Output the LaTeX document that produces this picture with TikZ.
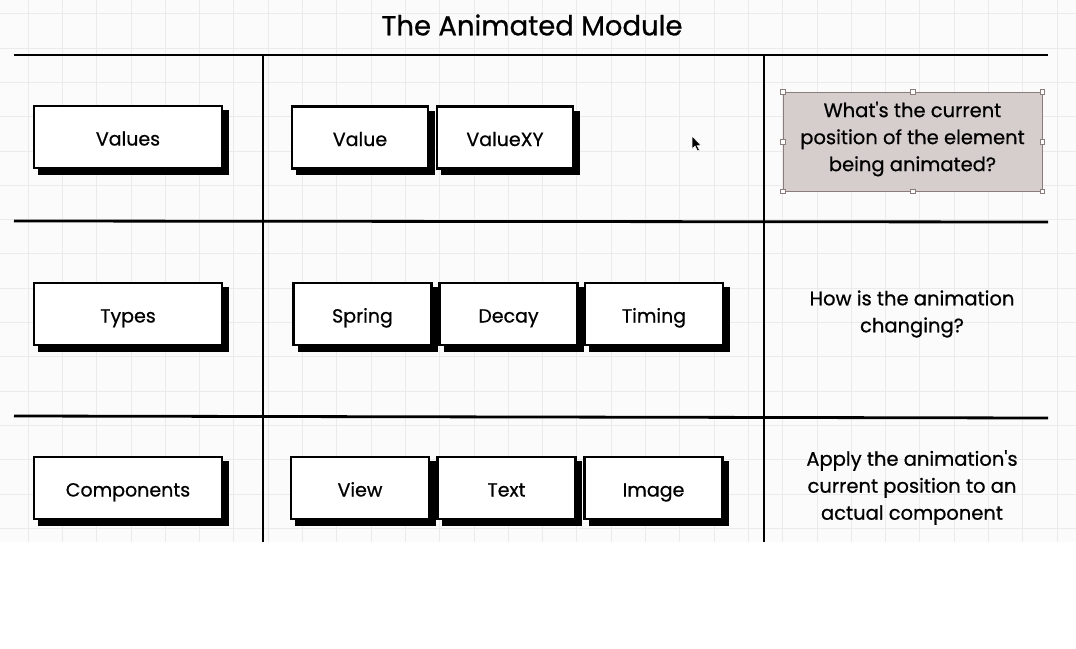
\documentclass[tikz,border=0pt]{standalone}
\usepackage{fontspec}
\setmainfont{Poppins}[Ligatures=TeXOff, FakeBold=0.7]
\usetikzlibrary{shadows}
\definecolor{gridbg}{RGB}{252,251,252}
\definecolor{gridln}{RGB}{236,234,237}
\definecolor{selfill}{RGB}{214,206,205}
\definecolor{selline}{RGB}{140,125,125}
\begin{document}
\begin{tikzpicture}[x=1pt,y=-1pt,
  rule/.style={line width=2.8pt, line cap=butt},
  labelfont/.style={font=\fontsize{19}{27}\selectfont},
  notefont/.style={font=\fontsize{19.5}{27}\selectfont},
  sbox/.style={labelfont, draw=black, line width=2.3pt, fill=white, inner sep=0pt,
    minimum height=62pt, text height=17pt, text depth=0pt,
    drop shadow={shadow xshift=5.5pt, shadow yshift=-5.5pt, fill=black, draw=black, opacity=1}},
  widebox/.style={sbox, minimum width=188pt},
  midbox/.style={sbox, minimum width=138pt},
  note/.style={notefont, align=center, inner sep=0pt},
  handle/.style={draw=selline, fill=white, line width=0.5pt, minimum size=4.5pt, inner sep=0pt}
]
\useasboundingbox (0,0) rectangle (1076,648);
% grid background
\fill[gridbg] (0,0) rectangle (1076,542);
\foreach \gx in {28,62.3,...,1076} \draw[gridln, line width=0.8pt] (\gx,0) -- (\gx,542);
\foreach \gy in {13.7,48,...,542} \draw[gridln, line width=0.8pt] (0,\gy) -- (1076,\gy);

% title
\node[font=\fontsize{27.5}{30}\selectfont, inner sep=0pt] (title) at (532,25) {The Animated Module};

% table rules
\draw[rule] (14,55) -- (1048,55);
\draw[rule] (14,221) -- (1048,222);
\draw[rule] (14,416) -- (1048,418);
\draw[rule] (263,55) -- (263,542);
\draw[rule] (764,55) -- (764,542);

% row 1
\node[widebox] (values) at (128,137) {Values};
\node[midbox, minimum width=136pt] (value) at (360,137.5) {Value};
\node[midbox, minimum width=136pt] (valuexy) at (505,137.5) {ValueXY};

% row 2
\node[widebox] (types) at (128,314) {Types};
\node[midbox] (spring) at (362.5,314) {Spring};
\node[midbox] (decay) at (508.5,314) {Decay};
\node[midbox] (timing) at (654,314) {Timing};

% row 3
\node[widebox] (components) at (128,488) {Components};
\node[midbox] (view) at (360,488) {View};
\node[midbox] (text) at (506.5,488) {Text};
\node[midbox] (image) at (653.5,488) {Image};

% selected note
\node[draw=selline, fill=selfill, line width=0.7pt, minimum width=259pt, minimum height=99pt, inner sep=0pt] (sel) at (912.5,141.5) {};
\node[note] (q1) at (912.5,139) {What's the current\\position of the element\\being animated?};
\foreach \a in {north west,north,north east,east,south east,south,south west,west}
  \node[handle] (h-\a) at (sel.\a) {};

% notes
\node[note] (q2) at (912,314) {How is the animation\\changing?};
\node[note] (q3) at (912,487.5) {Apply the animation's\\current position to an\\actual component};

% cursor
\coordinate (cur) at (692,136);
\filldraw[fill=black, draw=white, line width=0.5pt, shift={(cur)}]
  (0,0) -- (0,13) -- (3,10) -- (5.5,15) -- (7.5,14) -- (5,9.5) -- (9,9.5) -- cycle;
\end{tikzpicture}
\end{document}
